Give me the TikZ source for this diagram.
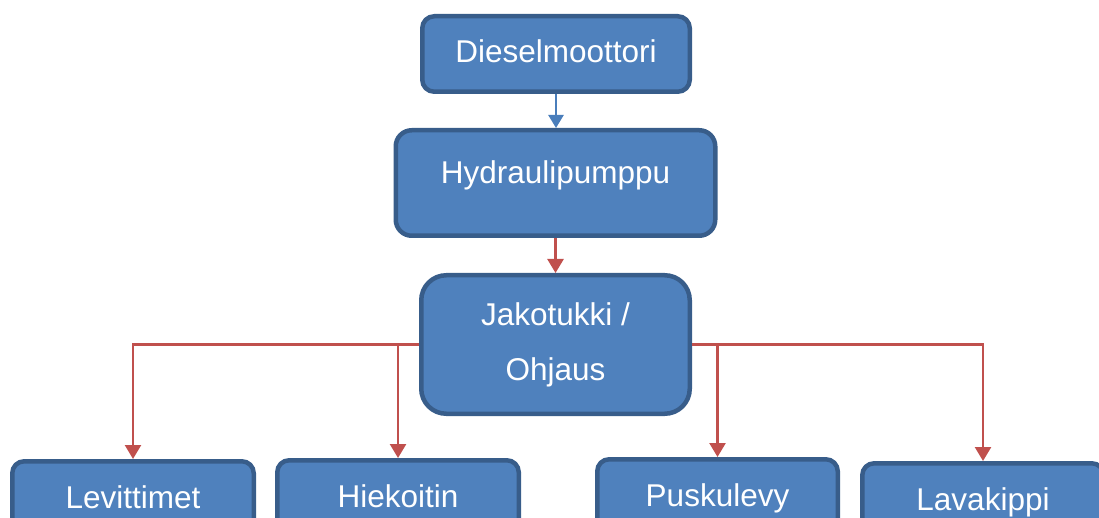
\documentclass[tikz,border=0pt]{standalone}
\usepackage{fontspec}
\setmainfont{Liberation Sans}
\usetikzlibrary{arrows.meta}
\definecolor{boxfill}{HTML}{4F81BD}
\definecolor{boxline}{HTML}{385D8A}
\definecolor{flowred}{HTML}{C0504D}
\definecolor{flowblue}{HTML}{4A7EBB}
\tikzset{
  block/.style={draw=boxline, fill=boxfill, line width=4.5pt, outer sep=2.25pt,
    inner sep=0pt, text=white, font=\fontsize{31.5}{55}\selectfont,
    text height=22pt, text depth=0pt},
  redflow/.style={draw=flowred, line width=2.5pt, -{Triangle[length=14pt,width=16pt]}},
  blueflow/.style={draw=flowblue, line width=2.5pt, -{Triangle[length=13pt,width=15pt]}},
}
\begin{document}
\begin{tikzpicture}[x=1pt,y=-1pt]
\useasboundingbox (0,0) rectangle (1099,518);
\clip (0,0) rectangle (1099,518);
% top chain
\node[block, minimum width=267.5pt, minimum height=75.5pt, rounded corners=12pt, text depth=5pt]
  (diesel) at (556,54) {Dieselmoottori};
\node[block, minimum width=319.5pt, minimum height=105.5pt, rounded corners=16pt, text depth=20pt]
  (pump) at (555.5,183) {Hydraulipumppu};
\node[block, minimum width=268.5pt, minimum height=138.5pt, rounded corners=25pt,
  text height={}, text depth={}, align=center]
  (valve) at (555.5,344.5) {Jakotukki /\\Ohjaus};
% consumers
\node[block, minimum width=241.5pt, minimum height=71.5pt, rounded corners=12pt]
  (spread) at (133,497) {Levittimet};
\node[block, minimum width=241.5pt, minimum height=71.5pt, rounded corners=12pt]
  (sand) at (398,496) {Hiekoitin};
\node[block, minimum width=240.5pt, minimum height=71.5pt, rounded corners=12pt]
  (plough) at (717.5,495) {Puskulevy};
\node[block, minimum width=241.5pt, minimum height=71.5pt, rounded corners=12pt]
  (tipper) at (983,499) {Lavakippi};
% connectors
\draw[blueflow] (diesel.south) -- (diesel.south |- pump.north);
\draw[redflow] (pump.south) -- (pump.south |- valve.north);
\draw[redflow] (valve.west) -| (spread.north);
\draw[redflow] (valve.west) -| (sand.north);
\draw[redflow] (valve.east) -| (plough.north);
\draw[redflow] (valve.east) -| (tipper.north);
\end{tikzpicture}
\end{document}
